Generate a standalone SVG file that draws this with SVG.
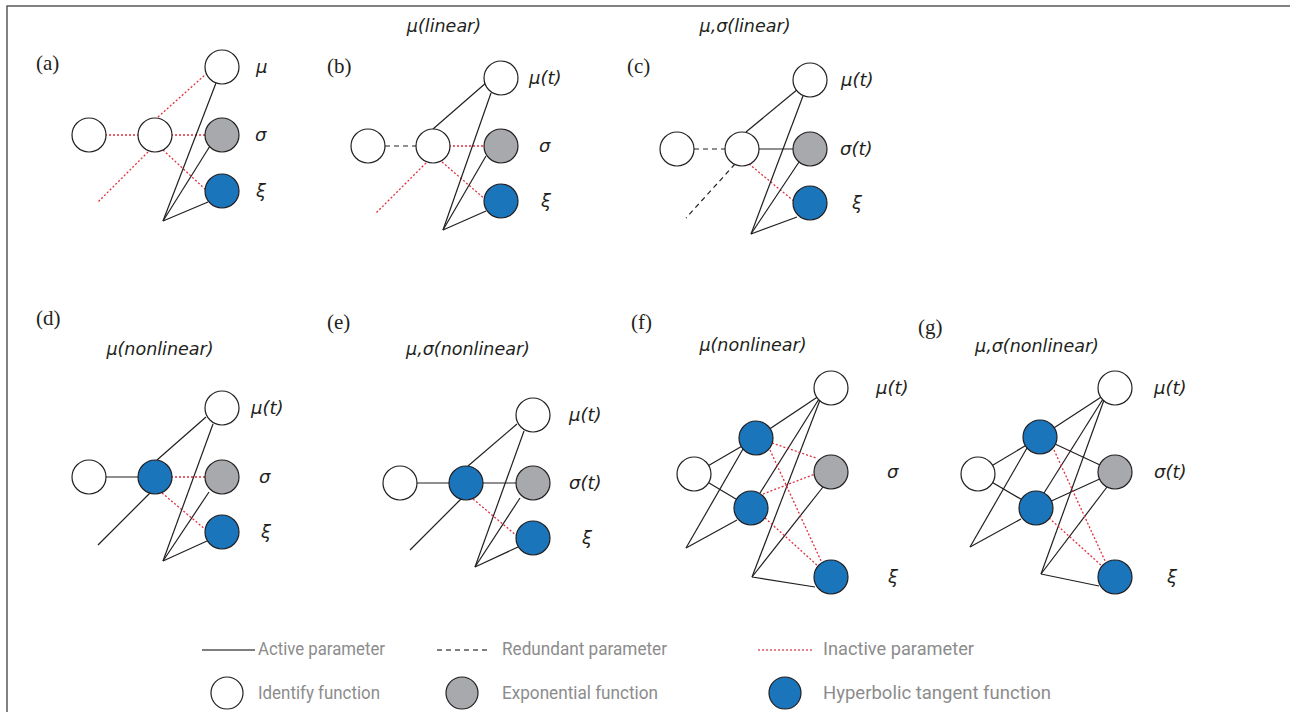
<svg xmlns="http://www.w3.org/2000/svg" width="1290" height="712" viewBox="0 0 1290 712">
  <style>
    .frame { fill: none; stroke: #5a5a5a; stroke-width: 1.5; }
    .node { stroke: #231f20; stroke-width: 1.2; }
    .ident { fill: #ffffff; }
    .expo { fill: #a7a9ac; }
    .tanh { fill: #1b75bb; }
    .act { stroke: #231f20; stroke-width: 1.2; fill: none; }
    .red { stroke: #e2303f; stroke-width: 1.3; stroke-dasharray: 2 2; fill: none; }
    .dash { stroke: #231f20; stroke-width: 1.2; stroke-dasharray: 5 4; fill: none; }
    .plab { font-family: "Liberation Serif", serif; font-size: 21px; fill: #231f20; }
    .var { font-family: "DejaVu Sans", "Liberation Sans", sans-serif; font-style: italic; font-size: 18px; fill: #231f20; }
    .ttl { font-family: "DejaVu Sans", "Liberation Sans", sans-serif; font-style: italic; font-size: 17.5px; fill: #231f20; text-anchor: middle; }
    .leg { font-family: Roboto, "Noto Sans", sans-serif; font-size: 17.5px; fill: #8c8c8c; }
    .legline { stroke: #555555; stroke-width: 1.5; fill: none; }
    .legred { stroke: #e05563; stroke-width: 1.5; stroke-dasharray: 2 2; fill: none; }
  </style>

  <!-- outer frame: top and left rules -->
  <path class="frame" d="M7,712 V6 H1290"/>

  <!-- panel letters -->
  <g id="panel-labels">
    <text class="plab" x="36" y="70">(a)</text>
    <text class="plab" x="327" y="73">(b)</text>
    <text class="plab" x="627" y="73">(c)</text>
    <text class="plab" x="36" y="325">(d)</text>
    <text class="plab" x="327" y="329">(e)</text>
    <text class="plab" x="631" y="329">(f)</text>
    <text class="plab" x="918" y="334">(g)</text>
  </g>

  <!-- panel titles -->
  <g id="titles">
    <text class="ttl" x="444" y="32">μ(linear)</text>
    <text class="ttl" x="745" y="32">μ,σ(linear)</text>
    <text class="ttl" x="160" y="355">μ(nonlinear)</text>
    <text class="ttl" x="468" y="355">μ,σ(nonlinear)</text>
    <text class="ttl" x="753" y="351">μ(nonlinear)</text>
    <text class="ttl" x="1037" y="352">μ,σ(nonlinear)</text>
  </g>

  <!-- connectors -->
  <g id="connectors">
    <!-- (a) -->
    <line class="red" x1="89" y1="135" x2="155" y2="135"/>
    <line class="red" x1="155" y1="135" x2="222" y2="135"/>
    <line class="red" x1="158" y1="117" x2="206" y2="74"/>
    <line class="red" x1="163" y1="150" x2="206" y2="190"/>
    <line class="red" x1="148" y1="152" x2="98" y2="202"/>
    <line class="act" x1="216" y1="83" x2="163" y2="221"/>
    <line class="act" x1="210" y1="146" x2="163" y2="221"/>
    <line class="act" x1="208" y1="202" x2="163" y2="221"/>

    <!-- (b) -->
    <line class="dash" x1="385" y1="146" x2="416" y2="146"/>
    <line class="act" x1="433" y1="129" x2="487" y2="82"/>
    <line class="red" x1="433" y1="146" x2="501" y2="146"/>
    <line class="red" x1="442" y1="162" x2="486" y2="200"/>
    <line class="red" x1="426" y1="163" x2="375" y2="214"/>
    <line class="act" x1="491" y1="93" x2="443" y2="230"/>
    <line class="act" x1="486" y1="156" x2="443" y2="230"/>
    <line class="act" x1="486" y1="211" x2="443" y2="230"/>

    <!-- (c) -->
    <line class="dash" x1="694" y1="149" x2="725" y2="149"/>
    <line class="act" x1="746" y1="132" x2="798" y2="89"/>
    <line class="act" x1="742" y1="149" x2="810" y2="149"/>
    <line class="dash" x1="735" y1="164" x2="686" y2="218"/>
    <line class="red" x1="749" y1="164" x2="795" y2="202"/>
    <line class="act" x1="803" y1="96" x2="751" y2="234"/>
    <line class="act" x1="799" y1="162" x2="751" y2="234"/>
    <line class="act" x1="797" y1="217" x2="751" y2="234"/>

    <!-- (d) -->
    <line class="act" x1="89" y1="477" x2="155" y2="477"/>
    <line class="act" x1="157" y1="460" x2="206" y2="417"/>
    <line class="act" x1="150" y1="493" x2="98" y2="545"/>
    <line class="red" x1="155" y1="477" x2="222" y2="477"/>
    <line class="red" x1="162" y1="493" x2="206" y2="530"/>
    <line class="act" x1="213" y1="424" x2="163" y2="561"/>
    <line class="act" x1="209" y1="492" x2="163" y2="561"/>
    <line class="act" x1="207" y1="541" x2="163" y2="561"/>

    <!-- (e) -->
    <line class="act" x1="400" y1="483" x2="466" y2="483"/>
    <line class="act" x1="468" y1="466" x2="517" y2="424"/>
    <line class="act" x1="461" y1="499" x2="410" y2="550"/>
    <line class="act" x1="466" y1="483" x2="533" y2="483"/>
    <line class="red" x1="473" y1="499" x2="517" y2="536"/>
    <line class="act" x1="524" y1="431" x2="475" y2="567"/>
    <line class="act" x1="520" y1="498" x2="475" y2="567"/>
    <line class="act" x1="518" y1="547" x2="475" y2="567"/>

    <!-- (f) -->
    <line class="act" x1="694" y1="474" x2="756" y2="438"/>
    <line class="act" x1="694" y1="474" x2="751" y2="508"/>
    <line class="act" x1="756" y1="438" x2="831" y2="388"/>
    <line class="act" x1="686" y1="548" x2="743" y2="449"/>
    <line class="act" x1="686" y1="548" x2="737" y2="520"/>
    <line class="act" x1="760" y1="493" x2="819" y2="399"/>
    <line class="act" x1="752" y1="577" x2="820" y2="400"/>
    <line class="act" x1="752" y1="577" x2="823" y2="487"/>
    <line class="act" x1="752" y1="577" x2="815" y2="587"/>
    <line class="red" x1="772" y1="443" x2="816" y2="458"/>
    <line class="red" x1="770" y1="450" x2="822" y2="563"/>
    <line class="red" x1="763" y1="494" x2="815" y2="474"/>
    <line class="red" x1="765" y1="518" x2="818" y2="566"/>

    <!-- (g) -->
    <line class="act" x1="978" y1="474" x2="1040" y2="437"/>
    <line class="act" x1="978" y1="474" x2="1036" y2="508"/>
    <line class="act" x1="1040" y1="437" x2="1115" y2="388"/>
    <line class="act" x1="970" y1="547" x2="1027" y2="448"/>
    <line class="act" x1="970" y1="547" x2="1021" y2="519"/>
    <line class="act" x1="1044" y1="493" x2="1103" y2="399"/>
    <line class="act" x1="1041" y1="574" x2="1104" y2="400"/>
    <line class="act" x1="1041" y1="574" x2="1107" y2="487"/>
    <line class="act" x1="1041" y1="574" x2="1099" y2="586"/>
    <line class="act" x1="1040" y1="437" x2="1115" y2="472"/>
    <line class="act" x1="1036" y1="508" x2="1115" y2="472"/>
    <line class="red" x1="1054" y1="450" x2="1106" y2="563"/>
    <line class="red" x1="1049" y1="518" x2="1102" y2="566"/>
  </g>

  <!-- (a) nodes -->
  <g id="a-input"><circle class="node ident" cx="89" cy="135" r="17"/></g>
  <g id="a-hidden"><circle class="node ident" cx="155" cy="135" r="17"/></g>
  <g id="a-mu"><circle class="node ident" cx="222" cy="67" r="17"/><text class="var" x="256" y="73">μ</text></g>
  <g id="a-sigma"><circle class="node expo" cx="222" cy="135" r="17"/><text class="var" x="255" y="141">σ</text></g>
  <g id="a-xi"><circle class="node tanh" cx="222" cy="191" r="17"/><text class="var" x="256" y="197">ξ</text></g>

  <!-- (b) nodes -->
  <g id="b-input"><circle class="node ident" cx="368" cy="146" r="17"/></g>
  <g id="b-hidden"><circle class="node ident" cx="433" cy="146" r="17"/></g>
  <g id="b-mu"><circle class="node ident" cx="501" cy="78" r="17"/><text class="var" x="529" y="84">μ(t)</text></g>
  <g id="b-sigma"><circle class="node expo" cx="501" cy="146" r="17"/><text class="var" x="539" y="152">σ</text></g>
  <g id="b-xi"><circle class="node tanh" cx="501" cy="201" r="17"/><text class="var" x="541" y="207">ξ</text></g>

  <!-- (c) nodes -->
  <g id="c-input"><circle class="node ident" cx="677" cy="149" r="17"/></g>
  <g id="c-hidden"><circle class="node ident" cx="742" cy="149" r="17"/></g>
  <g id="c-mu"><circle class="node ident" cx="810" cy="80" r="17"/><text class="var" x="841" y="86">μ(t)</text></g>
  <g id="c-sigma"><circle class="node expo" cx="810" cy="149" r="17"/><text class="var" x="840" y="155">σ(t)</text></g>
  <g id="c-xi"><circle class="node tanh" cx="810" cy="203" r="17"/><text class="var" x="852" y="209">ξ</text></g>

  <!-- (d) nodes -->
  <g id="d-input"><circle class="node ident" cx="89" cy="477" r="17"/></g>
  <g id="d-hidden"><circle class="node tanh" cx="155" cy="477" r="17"/></g>
  <g id="d-mu"><circle class="node ident" cx="222" cy="408" r="17"/><text class="var" x="251" y="414">μ(t)</text></g>
  <g id="d-sigma"><circle class="node expo" cx="222" cy="477" r="17"/><text class="var" x="259" y="483">σ</text></g>
  <g id="d-xi"><circle class="node tanh" cx="222" cy="532" r="17"/><text class="var" x="261" y="538">ξ</text></g>

  <!-- (e) nodes -->
  <g id="e-input"><circle class="node ident" cx="400" cy="483" r="17"/></g>
  <g id="e-hidden"><circle class="node tanh" cx="466" cy="483" r="17"/></g>
  <g id="e-mu"><circle class="node ident" cx="533" cy="415" r="17"/><text class="var" x="569" y="421">μ(t)</text></g>
  <g id="e-sigma"><circle class="node expo" cx="533" cy="483" r="17"/><text class="var" x="569" y="489">σ(t)</text></g>
  <g id="e-xi"><circle class="node tanh" cx="533" cy="538" r="17"/><text class="var" x="582" y="544">ξ</text></g>

  <!-- (f) nodes -->
  <g id="f-input"><circle class="node ident" cx="694" cy="474" r="17"/></g>
  <g id="f-hidden1"><circle class="node tanh" cx="756" cy="438" r="17"/></g>
  <g id="f-hidden2"><circle class="node tanh" cx="751" cy="508" r="17"/></g>
  <g id="f-mu"><circle class="node ident" cx="831" cy="388" r="17"/><text class="var" x="876" y="394">μ(t)</text></g>
  <g id="f-sigma"><circle class="node expo" cx="831" cy="472" r="17"/><text class="var" x="887" y="478">σ</text></g>
  <g id="f-xi"><circle class="node tanh" cx="831" cy="577" r="17"/><text class="var" x="888" y="583">ξ</text></g>

  <!-- (g) nodes -->
  <g id="g-input"><circle class="node ident" cx="978" cy="474" r="17"/></g>
  <g id="g-hidden1"><circle class="node tanh" cx="1040" cy="437" r="17"/></g>
  <g id="g-hidden2"><circle class="node tanh" cx="1036" cy="508" r="17"/></g>
  <g id="g-mu"><circle class="node ident" cx="1115" cy="388" r="17"/><text class="var" x="1154" y="394">μ(t)</text></g>
  <g id="g-sigma"><circle class="node expo" cx="1115" cy="472" r="17"/><text class="var" x="1154" y="478">σ(t)</text></g>
  <g id="g-xi"><circle class="node tanh" cx="1115" cy="577" r="17"/><text class="var" x="1167" y="583">ξ</text></g>

  <!-- legend -->
  <g id="legend">
    <line class="legline" x1="202" y1="650" x2="255" y2="650"/>
    <text class="leg" x="258" y="655" textLength="127" lengthAdjust="spacingAndGlyphs">Active parameter</text>
    <line class="legline" x1="437" y1="650" x2="490" y2="650" stroke-dasharray="5 4"/>
    <text class="leg" x="502" y="655" textLength="165" lengthAdjust="spacingAndGlyphs">Redundant parameter</text>
    <line class="legred" x1="758" y1="650" x2="812" y2="650"/>
    <text class="leg" x="823" y="655" textLength="151" lengthAdjust="spacingAndGlyphs">Inactive parameter</text>
    <circle class="node ident" cx="227" cy="693" r="16"/>
    <text class="leg" x="258" y="699" textLength="122" lengthAdjust="spacingAndGlyphs">Identify function</text>
    <circle class="node expo" cx="462" cy="693" r="16"/>
    <text class="leg" x="502" y="699" textLength="156" lengthAdjust="spacingAndGlyphs">Exponential function</text>
    <circle class="node tanh" cx="785" cy="693" r="16"/>
    <text class="leg" x="823" y="699" textLength="228" lengthAdjust="spacingAndGlyphs">Hyperbolic tangent function</text>
  </g>
</svg>
